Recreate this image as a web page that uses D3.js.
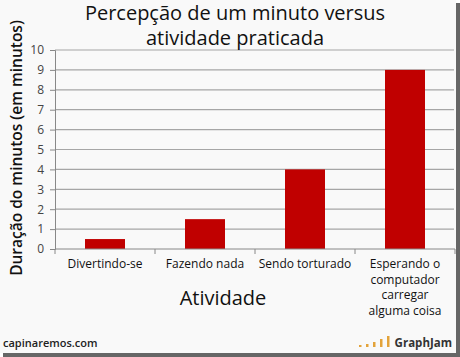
<!DOCTYPE html>
<html><head><meta charset="utf-8">
<script src="https://cdn.jsdelivr.net/npm/d3@7"></script>
<style>html,body{margin:0;padding:0;background:#fff;}svg{display:block;}</style>
</head><body>
<script>
const categories = ["Divertindo-se", "Fazendo nada", "Sendo torturado", "Esperando o\ncomputador\ncarregar\nalguma coisa"];
const values = [0.5, 1.5, 4, 9];
const yTicks = [0,1,2,3,4,5,6,7,8,9,10];
const titleLines = ["Percepção de um minuto versus", "atividade praticada"];
const yTitle = "Duração do minutos (em minutos)";
const xTitle = "Atividade";

const W = 460, H = 357;
const svg = d3.select("body").append("svg").attr("width", W).attr("height", H);
const font = "'Open Sans', 'DejaVu Sans', sans-serif";

// frame with shadow
svg.append("rect").attr("x",3).attr("y",3).attr("width",W-3).attr("height",H-3).attr("fill","#666");
svg.append("rect").attr("x",0).attr("y",0).attr("width",W-4).attr("height",H-4).attr("fill","#f9f9f9");

const x = d3.scaleBand().domain(categories).range([55, 455]).paddingInner(0.6).paddingOuter(0.3);
const y = d3.scaleLinear().domain([0, 10]).range([249, 50]);

// gridlines
svg.append("g").selectAll("line").data(yTicks.filter(d=>d>0)).join("line")
  .attr("x1", 55).attr("x2", 454).attr("y1", d=>y(d)).attr("y2", d=>y(d))
  .attr("stroke", "#a6a6a6").attr("stroke-width", 1.2);

// bars
svg.append("g").selectAll("rect").data(values).join("rect")
  .attr("x", (d,i)=>x(categories[i])).attr("width", x.bandwidth())
  .attr("y", d=>y(d)).attr("height", d=>y(0)-y(d))
  .attr("fill", "#c00000");

// y axis
const yAxis = svg.append("g").attr("transform","translate(55,0)")
  .call(d3.axisLeft(y).tickValues(yTicks).tickSize(5).tickPadding(6).tickFormat(d3.format("d")));
yAxis.selectAll("path,line").attr("stroke","#888");
yAxis.selectAll("text").attr("font-family",font).attr("font-size",12).attr("fill","#444");

// x axis
const xPos = d3.scalePoint().domain(d3.range(categories.length+1)).range([55,455]);
const xg = svg.append("g");
xg.append("line").attr("x1",55).attr("x2",455).attr("y1",y(0)).attr("y2",y(0)).attr("stroke","#888");
xg.selectAll("line.t").data(d3.range(categories.length+1)).join("line").attr("class","t")
  .attr("x1",d=>xPos(d)).attr("x2",d=>xPos(d)).attr("y1",y(0)).attr("y2",y(0)+5).attr("stroke","#888");

// category labels
categories.forEach((c,i)=>{
  const t = svg.append("text").attr("text-anchor","middle")
    .attr("font-family",font).attr("font-size",12).attr("fill","#111")
    .attr("x", x(c)+x.bandwidth()/2).attr("y", 268);
  c.split("\n").forEach((line,j)=>{
    t.append("tspan").attr("x", x(c)+x.bandwidth()/2).attr("dy", j===0?0:15.5).text(line);
  });
});

// title
titleLines.forEach((l,i)=>{
  svg.append("text").attr("x",235).attr("y",20+i*25).attr("text-anchor","middle")
    .attr("font-family",font).attr("font-size",20).attr("fill","#111").text(l);
});

// y title
svg.append("text").attr("transform","translate(22,148) rotate(-90)").attr("text-anchor","middle")
  .attr("font-family",font).attr("font-size",15.5).attr("font-weight","600").attr("fill","#111").text(yTitle);

// x title
svg.append("text").attr("x",223).attr("y",305).attr("text-anchor","middle")
  .attr("font-family",font).attr("font-size",20).attr("fill","#111").text(xTitle);

// footer
svg.append("text").attr("x",3).attr("y",347).attr("font-family",font).attr("font-size",11)
  .attr("font-weight","600").attr("fill","#222").text("capinaremos.com");
svg.append("text").attr("x",452).attr("y",347).attr("text-anchor","end").attr("font-family",font).attr("font-size",11.5)
  .attr("font-weight","700").attr("fill","#333").text("GraphJam");
const iconH = [2,3,5,8,11];
svg.append("g").selectAll("rect").data(iconH).join("rect")
  .attr("x",(d,i)=>359+i*7).attr("y",d=>347-d).attr("width",2.5).attr("height",d=>d).attr("fill","#e3a33a");
</script>
</body></html>
